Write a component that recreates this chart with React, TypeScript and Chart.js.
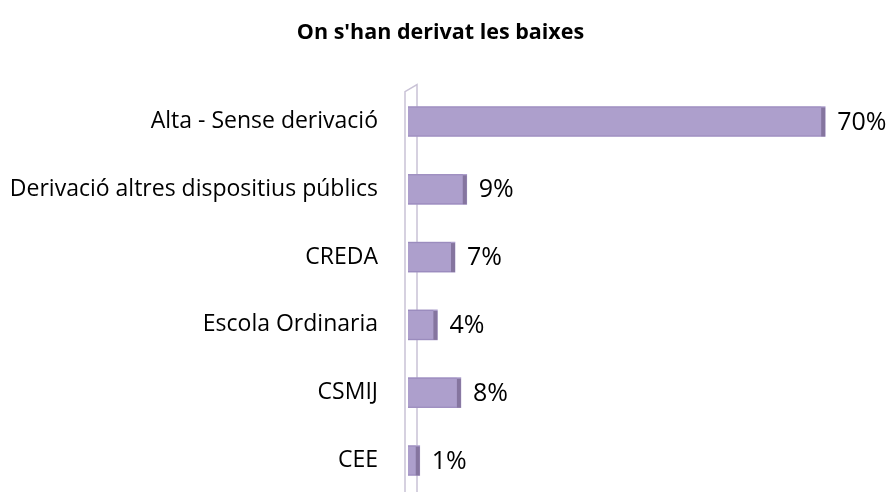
import React, { useEffect, useRef } from "react";
import { Chart, registerables } from "chart.js";

Chart.register(...registerables);

const categories = [
  "Alta - Sense derivació",
  "Derivació altres dispositius públics",
  "CREDA",
  "Escola Ordinaria",
  "CSMIJ",
  "CEE",
];
const values = [70, 9, 7, 4, 8, 1];
const titleText = "On s'han derivat les baixes";

const FONT = "'Open Sans'";
const BAR = "#ad9fcc";
const BAR_SIDE = "#85759f";
const WALL = "#c9c2d6";

const wallPlugin = {
  id: "wall3d",
  beforeDatasetsDraw(chart: any) {
    const { ctx, chartArea } = chart;
    const L = chartArea.left;
    const T = chartArea.top;
    const B = chart.height;
    ctx.save();
    ctx.strokeStyle = WALL;
    ctx.lineWidth = 1.5;
    ctx.beginPath();
    ctx.moveTo(L - 3, B);
    ctx.lineTo(L - 3, T + 4);
    ctx.lineTo(L + 9, T - 3);
    ctx.lineTo(L + 9, B);
    ctx.stroke();
    ctx.restore();
  },
};

const barEndPlugin = {
  id: "barEnds",
  afterDatasetsDraw(chart: any) {
    const { ctx } = chart;
    const meta = chart.getDatasetMeta(0);
    ctx.save();
    meta.data.forEach((el: any, i: number) => {
      const h = el.height;
      const top = el.y - h / 2;
      ctx.fillStyle = BAR_SIDE;
      ctx.fillRect(el.x - 4, top + 1, 4, h - 1);
      ctx.fillStyle = "rgba(120,100,160,0.35)";
      ctx.fillRect(el.base, top, el.x - el.base - 4, 1);
      ctx.fillRect(el.base, top + h - 1, el.x - el.base - 4, 1);
      ctx.fillStyle = "#000";
      ctx.font = `25px ${FONT}`;
      ctx.textAlign = "left";
      ctx.textBaseline = "middle";
      ctx.fillText(`${values[i]}%`, el.x + 12, el.y + 1);
    });
    ctx.restore();
  },
};

export default function App() {
  const ref = useRef<HTMLCanvasElement | null>(null);
  useEffect(() => {
    if (!ref.current) return;
    const chart = new Chart(ref.current, {
      type: "bar",
      data: {
        labels: categories,
        datasets: [
          {
            data: values,
            backgroundColor: BAR,
            borderWidth: 0,
            base: -1,
            barThickness: 30,
          } as any,
        ],
      },
      options: {
        indexAxis: "y",
        responsive: false,
        animation: false,
        layout: { padding: { left: 0, right: 11, top: 0, bottom: 25.6 } },
        plugins: {
          legend: { display: false },
          tooltip: { enabled: false },
          title: {
            display: true,
            text: titleText,
            color: "#000",
            font: { family: FONT, size: 21.5, weight: "bold" },
            padding: { top: 19.5, bottom: 42.3 },
          },
        },
        scales: {
          x: { display: false, min: -1, max: 79.5 },
          y: {
            grid: { display: false, drawTicks: true, tickLength: 30 },
            border: { display: false },
            ticks: {
              color: "#000",
              font: { family: FONT, size: 23 },
              padding: 0,
            },
            afterFit: (s: any) => {
              s.width = 408;
            },
          },
        },
      },
      plugins: [wallPlugin, barEndPlugin],
    });
    return () => chart.destroy();
  }, []);
  return (
    <div style={{ position: "fixed", left: 0, top: 0, width: 892, height: 520, background: "#fff" }}>
      <canvas ref={ref} width={892} height={520} />
    </div>
  );
}
